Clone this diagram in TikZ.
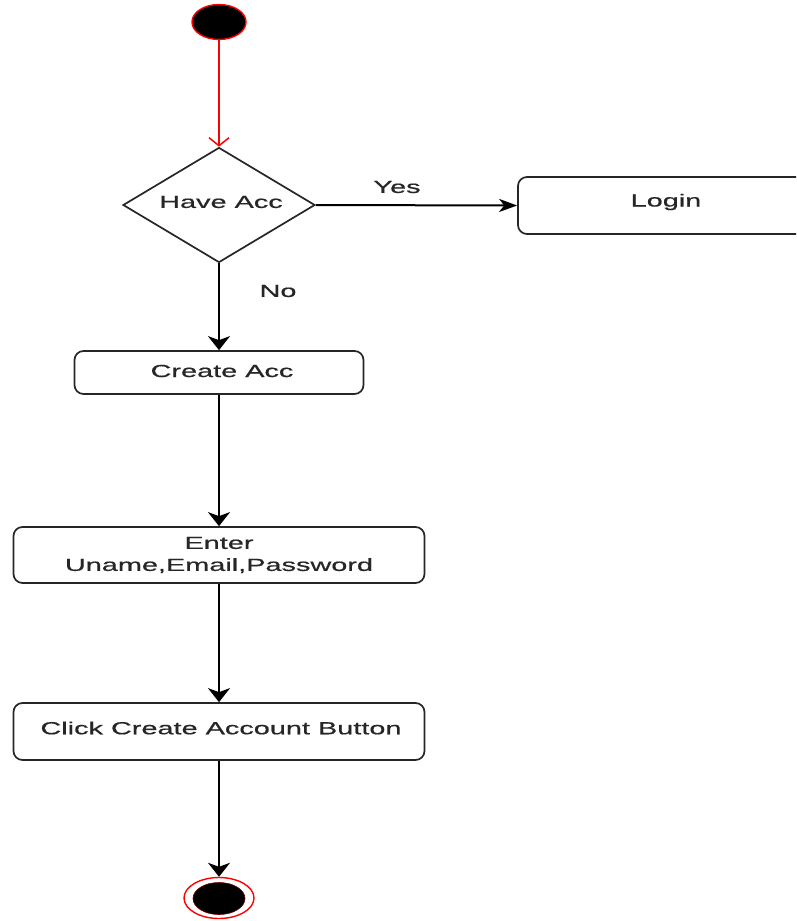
\documentclass[tikz,border=0pt]{standalone}
\usepackage{fontspec}
\setmainfont{Liberation Sans}
\newfontfamily\widefont[FakeStretch=1.65,FakeBold=0.6]{Liberation Sans}
\usetikzlibrary{shapes.geometric,arrows.meta}
\tikzset{
  act/.style={draw=black!85, line width=1.7pt, rounded corners=9pt, inner sep=0pt, align=center, font=\widefont\fontsize{17.5}{22}\selectfont},
  lbl/.style={inner sep=0pt, text=black!85, font=\widefont\fontsize{17.5}{22}\selectfont},
  flow/.style={draw=black, line width=2pt, -{Stealth[length=14pt,width=22pt,inset=4pt]}},
  hflow/.style={draw=black, line width=2pt, -{Stealth[length=18pt,width=13pt,inset=5pt]}},
  startflow/.style={draw=red, line width=1.5pt, -{Straight Barb[length=8pt,width=20pt,line width=1.5pt]}},
}
\begin{document}
\begin{tikzpicture}[x=1pt,y=-1pt]
\clip (0,0) rectangle (796,921);
\fill[white] (0,0) rectangle (796,921);
\node[ellipse, draw=red, fill=black, line width=1.4pt, minimum width=54pt, minimum height=35pt, inner sep=0pt] (start) at (219,22) {};
\node[diamond, draw=black!85, line width=1.7pt, minimum width=192pt, minimum height=115pt, inner sep=0pt] (have) at (219,205) {};
\node[lbl] (havet) at (221,202) {Have Acc};
\node[act, minimum width=296pt, minimum height=57pt] (login) at (666,205.5) {};
\node[lbl] (logint) at (666,202) {Login};
\node[act, minimum width=289pt, minimum height=43pt] (create) at (219,372.5) {};
\node[lbl] (createt) at (222,371) {Create Acc};
\node[act, text=black!85, minimum width=411pt, minimum height=56pt] (enter) at (219,555) {Enter\\Uname,Email,Password};
\node[act, minimum width=411pt, minimum height=57pt] (click) at (219,731.5) {};
\node[lbl] (clickt) at (221,728) {Click Create Account Button};
\node[ellipse, draw=red, line width=1.4pt, minimum width=70pt, minimum height=41pt, inner sep=0pt] (end) at (219,898) {};
\node[ellipse, fill=black, draw=red!40!black, line width=0.6pt, minimum width=52pt, minimum height=32pt, inner sep=0pt] (endin) at (219,898.5) {};
\draw[startflow] (start) -- (have.north);
\draw[hflow] (have.east) -- (login.west);
\draw[flow] (have.south) -- (create.north);
\draw[flow] (create.south) -- (enter.north);
\draw[flow] (enter.south) -- (click.north);
\draw[flow] (click.south) -- (end.north);
\node[lbl] (yes) at (397,187) {Yes};
\node[lbl] (no) at (278,291) {No};
\end{tikzpicture}
\end{document}
